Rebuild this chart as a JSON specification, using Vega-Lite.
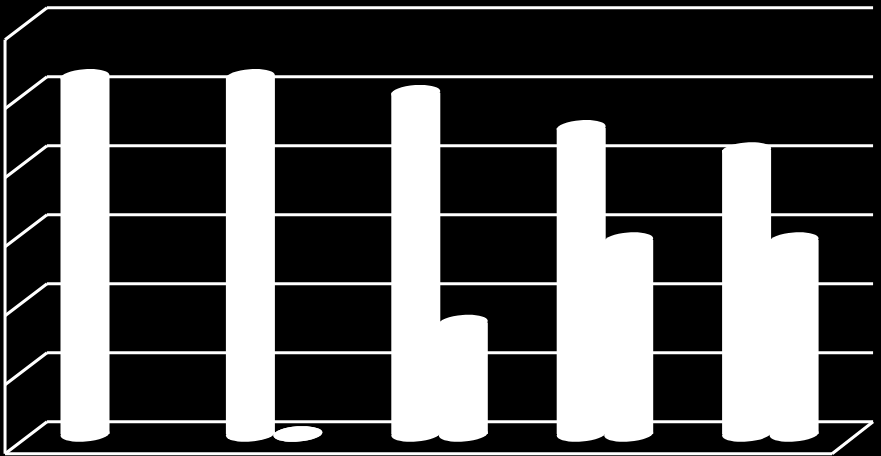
{
  "$schema": "https://vega.github.io/schema/vega-lite/v6.json",
  "width": 881,
  "height": 456,
  "padding": 0,
  "autosize": {"type": "fit", "contains": "padding"},
  "background": "#000000",
  "view": {"stroke": null},
  "datasets": {
    "frame": [
      {"x": 0, "x2": 5, "y": 0, "y2": 0},
      {"x": 0, "x2": 5, "y": 20, "y2": 20},
      {"x": 0, "x2": 5, "y": 40, "y2": 40},
      {"x": 0, "x2": 5, "y": 60, "y2": 60},
      {"x": 0, "x2": 5, "y": 80, "y2": 80},
      {"x": 0, "x2": 5, "y": 100, "y2": 100},
      {"x": 0, "x2": 5, "y": 120, "y2": 120},
      {"x": -0.254, "x2": 0, "y": -9.3, "y2": 0},
      {"x": -0.254, "x2": 0, "y": 10.7, "y2": 20},
      {"x": -0.254, "x2": 0, "y": 30.7, "y2": 40},
      {"x": -0.254, "x2": 0, "y": 50.7, "y2": 60},
      {"x": -0.254, "x2": 0, "y": 70.7, "y2": 80},
      {"x": -0.254, "x2": 0, "y": 90.7, "y2": 100},
      {"x": -0.254, "x2": 0, "y": 110.7, "y2": 120},
      {"x": -0.254, "x2": -0.254, "y": -9.3, "y2": 110.7},
      {"x": -0.254, "x2": 4.752, "y": -9.3, "y2": -9.3},
      {"x": 4.752, "x2": 5, "y": -9.3, "y2": 0}
    ],
    "bars": [
      {"category": "1", "series": "A", "value": 103.5},
      {"category": "2", "series": "A", "value": 103.5},
      {"category": "2", "series": "B", "value": 0},
      {"category": "3", "series": "A", "value": 98.9},
      {"category": "3", "series": "B", "value": 32.3},
      {"category": "4", "series": "A", "value": 88.7},
      {"category": "4", "series": "B", "value": 56.2},
      {"category": "5", "series": "A", "value": 82.3},
      {"category": "5", "series": "B", "value": 56.2}
    ]
  },
  "resolve": {"scale": {"x": "independent", "y": "independent"}},
  "layer": [
    {
      "data": {"name": "frame"},
      "mark": {"type": "rule", "color": "#ffffff", "strokeWidth": 3},
      "encoding": {
        "x": {"field": "x", "type": "quantitative", "axis": null, "scale": {"domain": [-0.2845, 5.048], "nice": false, "zero": false}},
        "x2": {"field": "x2"},
        "y": {"field": "y", "type": "quantitative", "axis": null, "scale": {"domain": [-9.94, 122.23], "nice": false, "zero": false}},
        "y2": {"field": "y2"}
      }
    },
    {
      "data": {"name": "bars"},
      "layer": [
        {
          "mark": {"type": "bar", "width": 49, "color": "#ffffff"},
          "encoding": {
            "y": {"field": "value", "type": "quantitative", "axis": null, "scale": {"domain": [-6.4, 125.77], "nice": false, "zero": false}},
            "y2": {"datum": 0}
          }
        },
        {
          "mark": {"type": "point", "filled": true, "opacity": 1, "color": "#ffffff", "size": 2401, "shape": "M-1,0.07A1,0.31 -4 1 1 1,-0.07A1,0.31 -4 1 1 -1,0.07Z"},
          "encoding": {
            "y": {"field": "value", "type": "quantitative", "axis": null, "scale": {"domain": [-6.4, 125.77], "nice": false, "zero": false}}
          }
        },
        {
          "mark": {"type": "point", "filled": true, "opacity": 1, "color": "#ffffff", "size": 2401, "shape": "M-1,0.07A1,0.31 -4 1 1 1,-0.07A1,0.31 -4 1 1 -1,0.07Z"},
          "encoding": {
            "y": {"datum": 0, "type": "quantitative", "axis": null, "scale": {"domain": [-6.4, 125.77], "nice": false, "zero": false}}
          }
        }
      ],
      "encoding": {
        "x": {"field": "category", "type": "nominal", "axis": null, "scale": {"type": "band", "domain": ["1", "2", "3", "4", "5"], "range": [26, 853], "paddingInner": 0, "paddingOuter": 0}},
        "xOffset": {"field": "series", "type": "nominal", "scale": {"type": "point", "domain": ["A", "B"], "range": [59, 106.5], "padding": 0}}
      }
    }
  ]
}
